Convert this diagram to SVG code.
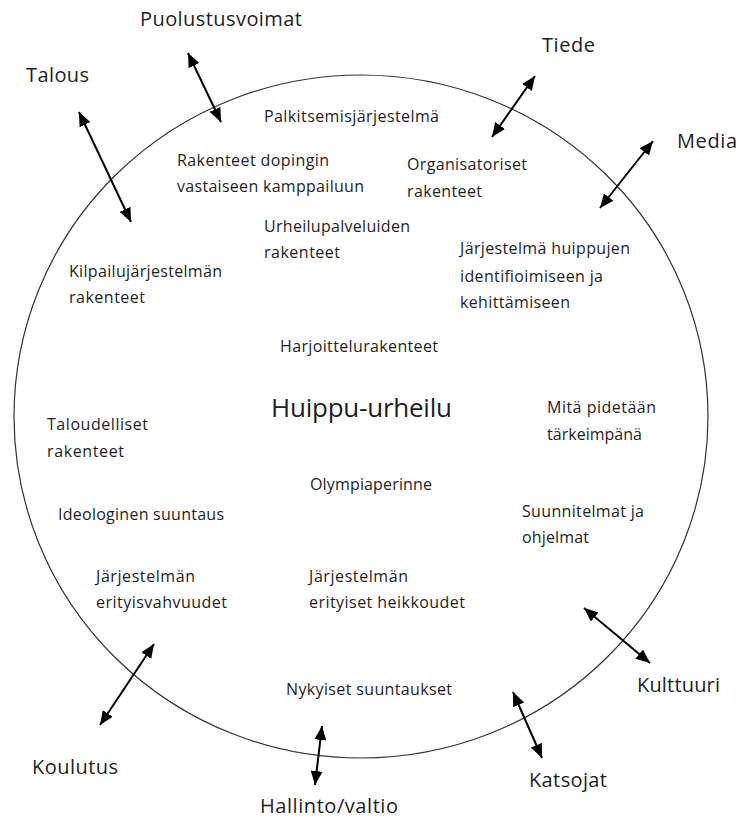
<svg xmlns="http://www.w3.org/2000/svg" width="740" height="820" viewBox="0 0 740 820">
<style>
text{font-family:"Open Sans","Noto Sans","Liberation Sans",sans-serif;fill:#1e1e1e}
.o{font-size:20px}
.i{font-size:16px}
.m{font-size:26px}
.c{stroke:#000;stroke-width:2;fill:none;marker-start:url(#ah);marker-end:url(#ah)}
</style>
<defs>
<marker id="ah" markerUnits="userSpaceOnUse" markerWidth="14" markerHeight="12" viewBox="0 0 14 12" refX="14" refY="6" orient="auto-start-reverse">
<path d="M0,0 L14,6 L0,12 z" fill="#000"/>
</marker>
</defs>
<rect width="740" height="820" fill="#fff"/>
<g id="circle">
<ellipse cx="361" cy="416.5" rx="347" ry="341.5" fill="none" stroke="#333" stroke-width="1.2"/>
</g>
<g id="connectors">
<line class="c" x1="188" y1="53" x2="221" y2="122"/>
<line class="c" x1="79" y1="112" x2="131" y2="222"/>
<line class="c" x1="535" y1="76" x2="492" y2="137"/>
<line class="c" x1="653" y1="141" x2="600" y2="208"/>
<line class="c" x1="154" y1="644" x2="100" y2="725"/>
<line class="c" x1="322" y1="726" x2="315" y2="785"/>
<line class="c" x1="513" y1="692" x2="542" y2="758"/>
<line class="c" x1="584" y1="608" x2="650" y2="663"/>
</g>
<g id="puolustusvoimat"><text class="o" x="140" y="26" textLength="162" lengthAdjust="spacing">Puolustusvoimat</text></g>
<g id="talous"><text class="o" x="26" y="82" textLength="63" lengthAdjust="spacing">Talous</text></g>
<g id="tiede"><text class="o" x="542" y="52" textLength="53" lengthAdjust="spacing">Tiede</text></g>
<g id="media"><text class="o" x="677" y="148" textLength="60" lengthAdjust="spacing">Media</text></g>
<g id="koulutus"><text class="o" x="32" y="774" textLength="86" lengthAdjust="spacing">Koulutus</text></g>
<g id="hallinto"><text class="o" x="260" y="813" textLength="138" lengthAdjust="spacing">Hallinto/valtio</text></g>
<g id="katsojat"><text class="o" x="529" y="787" textLength="78" lengthAdjust="spacing">Katsojat</text></g>
<g id="kulttuuri"><text class="o" x="637" y="692" textLength="83" lengthAdjust="spacing">Kulttuuri</text></g>
<g id="huippu-urheilu"><text class="m" x="271" y="417" textLength="181" lengthAdjust="spacing">Huippu-urheilu</text></g>
<g id="palkitsemis"><text class="i" x="264" y="122" textLength="175" lengthAdjust="spacing">Palkitsemisjärjestelmä</text></g>
<g id="doping">
<text class="i" x="177" y="166" textLength="152" lengthAdjust="spacing">Rakenteet dopingin</text>
<text class="i" x="177" y="192" textLength="187" lengthAdjust="spacing">vastaiseen kamppailuun</text>
</g>
<g id="organisatoriset">
<text class="i" x="407" y="170" textLength="120" lengthAdjust="spacing">Organisatoriset</text>
<text class="i" x="407" y="197" textLength="75" lengthAdjust="spacing">rakenteet</text>
</g>
<g id="urheilupalvelut">
<text class="i" x="264" y="232" textLength="146" lengthAdjust="spacing">Urheilupalveluiden</text>
<text class="i" x="264" y="258" textLength="76" lengthAdjust="spacing">rakenteet</text>
</g>
<g id="huiput">
<text class="i" x="460" y="254" textLength="170" lengthAdjust="spacing">Järjestelmä huippujen</text>
<text class="i" x="460" y="282" textLength="143" lengthAdjust="spacing">identifioimiseen ja</text>
<text class="i" x="460" y="308" textLength="110" lengthAdjust="spacing">kehittämiseen</text>
</g>
<g id="kilpailu">
<text class="i" x="69" y="277" textLength="153" lengthAdjust="spacing">Kilpailujärjestelmän</text>
<text class="i" x="69" y="303" textLength="76" lengthAdjust="spacing">rakenteet</text>
</g>
<g id="harjoittelu"><text class="i" x="280" y="352" textLength="158" lengthAdjust="spacing">Harjoittelurakenteet</text></g>
<g id="taloudelliset">
<text class="i" x="47" y="430" textLength="101" lengthAdjust="spacing">Taloudelliset</text>
<text class="i" x="47" y="457" textLength="77" lengthAdjust="spacing">rakenteet</text>
</g>
<g id="mita">
<text class="i" x="547" y="413" textLength="109" lengthAdjust="spacing">Mitä pidetään</text>
<text class="i" x="547" y="440" textLength="95" lengthAdjust="spacing">tärkeimpänä</text>
</g>
<g id="olympia"><text class="i" x="310" y="490" textLength="122" lengthAdjust="spacing">Olympiaperinne</text></g>
<g id="ideologinen"><text class="i" x="58" y="520" textLength="166" lengthAdjust="spacing">Ideologinen suuntaus</text></g>
<g id="suunnitelmat">
<text class="i" x="522" y="517" textLength="122" lengthAdjust="spacing">Suunnitelmat ja</text>
<text class="i" x="522" y="543" textLength="67" lengthAdjust="spacing">ohjelmat</text>
</g>
<g id="vahvuudet">
<text class="i" x="96" y="582" textLength="99" lengthAdjust="spacing">Järjestelmän</text>
<text class="i" x="96" y="608" textLength="131" lengthAdjust="spacing">erityisvahvuudet</text>
</g>
<g id="heikkoudet">
<text class="i" x="309" y="582" textLength="99" lengthAdjust="spacing">Järjestelmän</text>
<text class="i" x="309" y="608" textLength="156" lengthAdjust="spacing">erityiset heikkoudet</text>
</g>
<g id="nykyiset"><text class="i" x="286" y="695" textLength="166" lengthAdjust="spacing">Nykyiset suuntaukset</text></g>
</svg>
